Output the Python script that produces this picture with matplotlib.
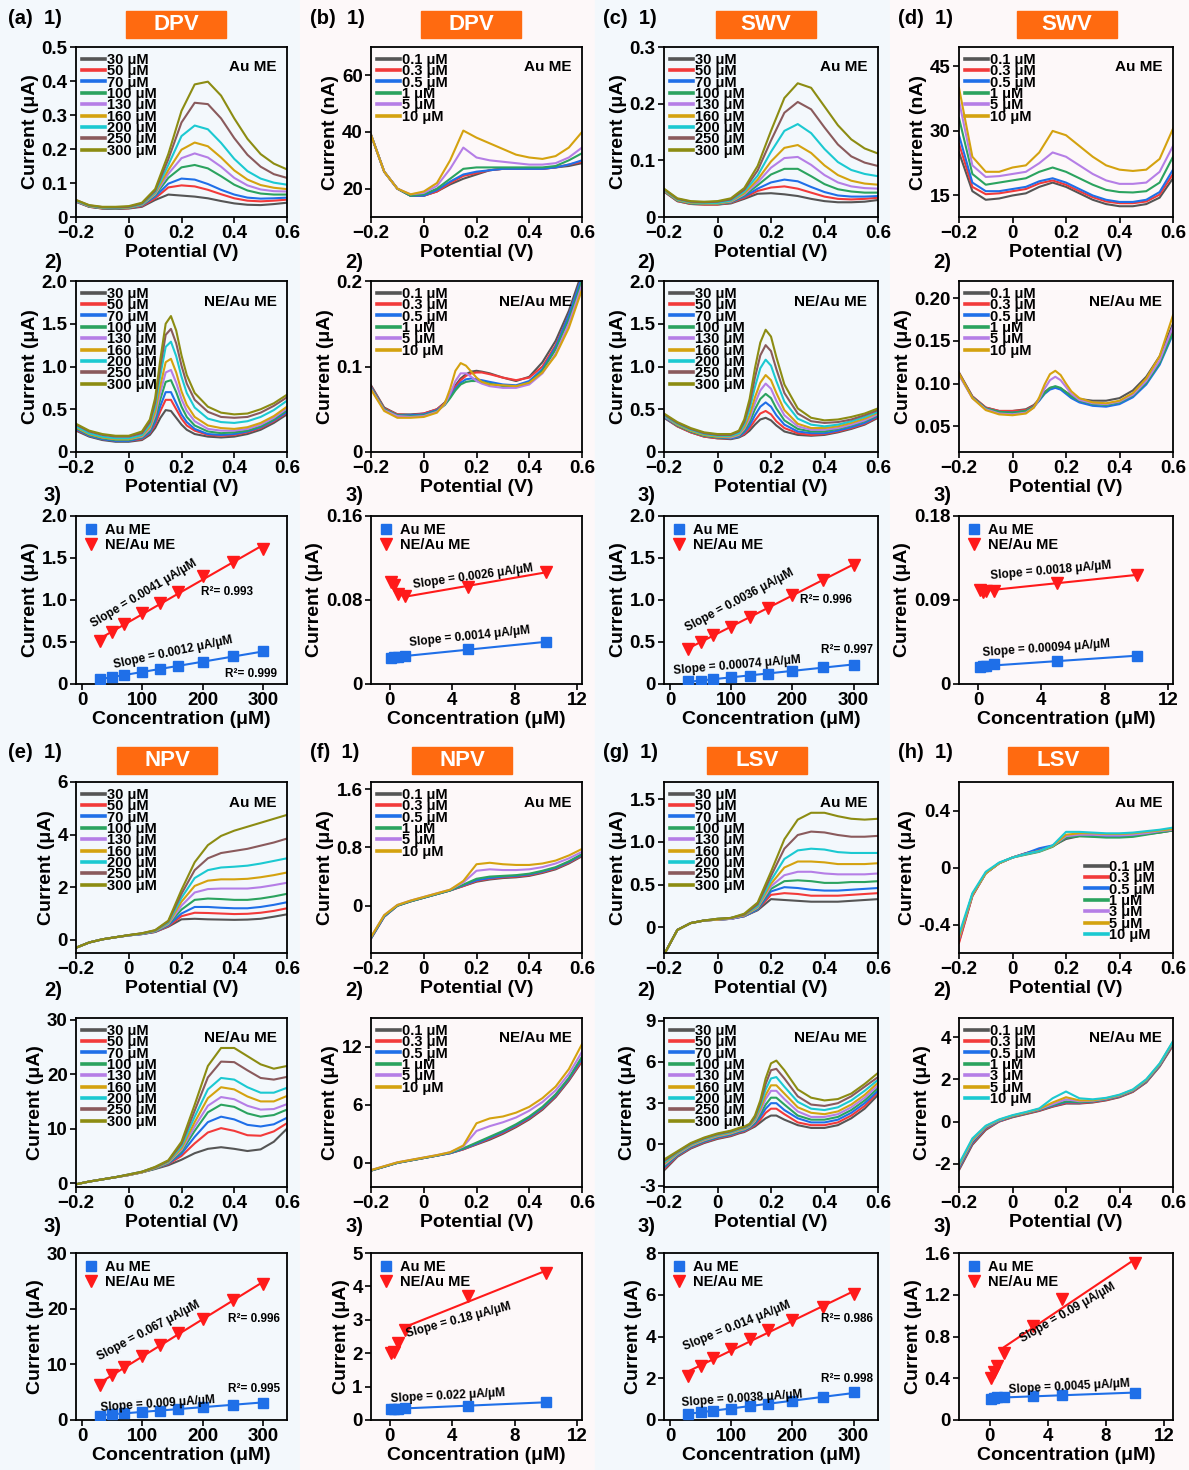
import numpy as np
import matplotlib
matplotlib.use("Agg")
import matplotlib.pyplot as plt
from matplotlib.patches import Rectangle

plt.rcParams["font.family"] = ["Liberation Sans", "DejaVu Sans"]
plt.rcParams["font.weight"] = "bold"
plt.rcParams["axes.labelweight"] = "bold"

# ---------------------------------------------------------------------------
# data
XC = [-0.2, -0.15, -0.1, -0.05, 0.0, 0.05, 0.1, 0.15, 0.2, 0.25, 0.3, 0.35, 0.4, 0.45, 0.5, 0.55, 0.6]
XF = [-0.2, -0.15, -0.1, -0.05, 0.0, 0.05, 0.08, 0.1, 0.12, 0.14, 0.16, 0.18, 0.2, 0.22, 0.25,
      0.3, 0.35, 0.4, 0.45, 0.5, 0.55, 0.6]

L9 = ["30 μM", "50 μM", "70 μM", "100 μM", "130 μM", "160 μM", "200 μM", "250 μM", "300 μM"]
L6 = ["0.1 μM", "0.3 μM", "0.5 μM", "1 μM", "5 μM", "10 μM"]
L7 = ["0.1 μM", "0.3 μM", "0.5 μM", "1 μM", "3 μM", "5 μM", "10 μM"]

CONC_HI = [30, 50, 70, 100, 130, 160, 200, 250, 300]
CONC_LO = [0.1, 0.3, 0.5, 1, 5, 10]
CONC_LO7 = [0.1, 0.3, 0.5, 1, 3, 5, 10]

# (a) DPV, uA
A1 = [
    [.045, .03, .025, .024, .025, .03, .05, .066, .063, .06, .055, .047, .04, .036, .035, .038, .042],
    [.045, .03, .025, .024, .026, .032, .055, .087, .093, .09, .08, .067, .055, .048, .046, .048, .051],
    [.046, .031, .026, .025, .027, .034, .06, .098, .113, .11, .097, .08, .066, .057, .054, .055, .057],
    [.047, .031, .026, .025, .027, .035, .064, .115, .146, .153, .143, .12, .095, .078, .069, .066, .066],
    [.047, .032, .027, .026, .028, .036, .067, .127, .173, .187, .175, .148, .115, .093, .081, .076, .075],
    [.048, .032, .027, .026, .028, .037, .07, .138, .198, .219, .208, .175, .137, .11, .094, .086, .082],
    [.048, .033, .028, .027, .029, .038, .073, .153, .238, .269, .258, .218, .171, .135, .113, .101, .095],
    [.05, .034, .029, .028, .03, .04, .077, .17, .278, .336, .332, .29, .232, .183, .148, .126, .115],
    [.05, .035, .03, .03, .032, .042, .082, .185, .312, .39, .398, .357, .29, .23, .185, .157, .14],
]
A2 = [
    [.25, .18, .14, .12, .12, .14, .2, .28, .4, .49, .48, .4, .32, .26, .21, .18, .17, .18, .21, .26, .34, .44],
    [.26, .19, .15, .13, .13, .15, .22, .32, .48, .61, .61, .5, .39, .31, .25, .2, .19, .2, .23, .28, .36, .46],
    [.27, .19, .15, .13, .13, .16, .23, .35, .54, .7, .7, .57, .44, .35, .27, .21, .2, .21, .24, .29, .37, .47],
    [.28, .2, .16, .14, .14, .17, .25, .39, .62, .82, .84, .7, .53, .41, .31, .24, .22, .23, .25, .3, .38, .49],
    [.29, .21, .17, .15, .15, .18, .27, .43, .7, .93, .96, .81, .62, .48, .36, .27, .25, .25, .27, .32, .4, .51],
    [.29, .21, .17, .15, .15, .19, .29, .47, .78, 1.05, 1.09, .93, .71, .55, .41, .31, .28, .27, .29, .34, .42, .53],
    [.3, .22, .18, .16, .16, .2, .32, .53, .9, 1.23, 1.29, 1.12, .88, .69, .52, .39, .35, .34, .36, .41, .49, .6],
    [.32, .24, .2, .18, .18, .22, .35, .58, 1.0, 1.37, 1.44, 1.27, 1.01, .8, .61, .47, .41, .4, .41, .46, .54, .64],
    [.33, .25, .21, .19, .19, .24, .38, .63, 1.09, 1.5, 1.59, 1.42, 1.13, .9, .69, .53, .46, .44, .45, .5, .57, .67],
]
A3_AU = [0.06, 0.085, 0.105, 0.145, 0.18, 0.21, 0.26, 0.33, 0.39]
A3_NE = [0.51, 0.62, 0.71, 0.84, 0.96, 1.09, 1.29, 1.45, 1.61]

# (b) DPV, low concentration
B1 = [
    [39, 26, 20, 17.5, 17.5, 19, 21.5, 23.5, 25, 26.5, 27, 27, 27, 27, 27.5, 28, 29],
    [39, 26, 20, 17.5, 17.5, 19, 22, 24.5, 25.5, 26.5, 27, 27, 27, 27, 27.5, 28.5, 29.5],
    [39, 26, 20, 17.5, 17.5, 19.5, 22.5, 25, 26, 26.5, 27, 27, 27, 27, 27.5, 28.5, 30],
    [39, 26, 20, 17.5, 18, 20, 23.5, 27, 27.5, 27.5, 27.5, 27.5, 27.5, 27.5, 28, 30, 32.5],
    [39, 26, 20, 18, 18.5, 21, 27, 34.5, 31, 30, 29.5, 29, 28.5, 28.5, 29, 31, 34.5],
    [39, 26, 20, 18, 19, 22, 30, 40.5, 38, 36, 34, 32, 31, 30.5, 31.5, 34.5, 40],
]
B2 = [
    [.078, .052, .044, .044, .045, .05, .058, .068, .078, .086, .091, .094, .095, .094, .092, .087, .083, .088, .105, .13, .165, .21],
    [.077, .051, .044, .043, .045, .05, .057, .066, .076, .084, .089, .092, .093, .093, .091, .087, .084, .087, .1, .125, .16, .205],
    [.076, .05, .043, .043, .044, .049, .056, .064, .074, .081, .085, .086, .085, .084, .082, .079, .078, .083, .097, .123, .16, .205],
    [.075, .05, .043, .042, .043, .048, .055, .063, .072, .079, .082, .083, .083, .082, .08, .077, .076, .081, .095, .12, .155, .2],
    [.074, .049, .042, .041, .042, .047, .056, .068, .083, .092, .092, .088, .083, .08, .077, .075, .075, .079, .092, .115, .15, .195],
    [.073, .048, .04, .04, .041, .046, .057, .074, .095, .104, .101, .094, .087, .082, .079, .078, .077, .081, .093, .113, .145, .19],
]
B3_AU = [0.025, 0.0255, 0.026, 0.027, 0.033, 0.040]
B3_NE = [0.097, 0.094, 0.086, 0.084, 0.092, 0.107]

# (c) SWV
C1 = [
    [.045, .028, .023, .022, .022, .024, .032, .041, .042, .04, .037, .032, .028, .026, .026, .027, .03],
    [.045, .028, .023, .022, .022, .025, .034, .046, .052, .054, .05, .043, .036, .032, .031, .032, .034],
    [.046, .029, .024, .023, .023, .026, .036, .05, .061, .066, .063, .053, .044, .038, .036, .036, .037],
    [.046, .029, .024, .023, .023, .026, .038, .056, .075, .085, .085, .072, .058, .049, .045, .043, .043],
    [.047, .03, .025, .024, .024, .027, .04, .061, .087, .104, .106, .092, .074, .061, .054, .051, .05],
    [.047, .03, .025, .024, .024, .028, .042, .066, .098, .122, .127, .113, .091, .074, .064, .059, .057],
    [.048, .031, .026, .025, .025, .029, .045, .073, .115, .152, .164, .148, .12, .097, .083, .076, .072],
    [.049, .032, .027, .026, .027, .031, .048, .082, .135, .184, .203, .19, .158, .128, .107, .096, .09],
    [.05, .033, .028, .027, .028, .033, .051, .09, .152, .21, .236, .228, .195, .162, .137, .121, .112],
]
C2 = [
    [.4, .3, .23, .18, .16, .15, .17, .2, .25, .32, .38, .4, .37, .31, .24, .2, .19, .2, .23, .27, .32, .4],
    [.41, .3, .23, .18, .16, .16, .18, .21, .28, .37, .45, .48, .44, .36, .28, .22, .2, .21, .24, .28, .33, .41],
    [.41, .31, .24, .19, .17, .16, .18, .23, .31, .43, .53, .58, .53, .43, .32, .24, .22, .22, .25, .29, .34, .42],
    [.42, .31, .24, .19, .17, .17, .19, .25, .35, .5, .62, .68, .63, .51, .37, .27, .24, .24, .27, .31, .36, .43],
    [.42, .32, .25, .2, .18, .17, .2, .27, .39, .57, .72, .8, .74, .6, .43, .3, .26, .26, .28, .32, .37, .44],
    [.43, .32, .25, .2, .18, .18, .21, .29, .43, .64, .81, .9, .84, .69, .49, .33, .28, .28, .3, .34, .39, .46],
    [.43, .33, .26, .21, .19, .19, .22, .32, .5, .76, .98, 1.08, 1.01, .83, .59, .39, .32, .3, .32, .36, .41, .47],
    [.44, .34, .27, .22, .2, .2, .24, .35, .56, .87, 1.13, 1.25, 1.18, .97, .69, .45, .36, .34, .35, .38, .43, .49],
    [.45, .35, .28, .23, .21, .21, .25, .38, .62, .98, 1.28, 1.43, 1.35, 1.11, .79, .51, .4, .37, .38, .41, .45, .51],
]
C3_AU = [0.03, 0.04, 0.055, 0.08, 0.10, 0.12, 0.16, 0.20, 0.23]
C3_NE = [0.42, 0.50, 0.58, 0.68, 0.80, 0.90, 1.06, 1.24, 1.42]

# (d) SWV, low concentration
D1 = [
    [25, 16, 14, 14.3, 15, 15.5, 17, 18, 17, 15.5, 14, 13, 12.5, 12.5, 13, 14.5, 19],
    [27, 17, 15.3, 15.5, 16, 16.5, 17.8, 18.5, 17.5, 16, 14.6, 13.6, 13.2, 13.2, 13.6, 15.2, 20],
    [29, 18, 16, 16, 16.5, 17, 18.3, 19, 18, 16.5, 15, 14, 13.5, 13.5, 14, 15.8, 21],
    [33, 20, 17.5, 18, 18.5, 19, 20.5, 21.5, 20.5, 19, 17.5, 16.3, 15.8, 15.7, 16, 18, 24],
    [37, 22, 19.3, 19.5, 20, 20.5, 22.5, 25, 24, 22, 20, 18.5, 17.7, 17.7, 18, 20.5, 26.5],
    [40, 24, 20.5, 20.5, 21.5, 22, 25, 30, 29, 26.5, 24, 22, 21, 20.7, 21, 23.5, 30.5],
]
D2 = [
    [.113, .085, .072, .068, .068, .07, .075, .082, .09, .095, .096, .094, .09, .086, .082, .08, .08, .083, .092, .108, .132, .17],
    [.112, .085, .072, .068, .068, .069, .074, .081, .089, .094, .096, .094, .09, .085, .08, .077, .076, .079, .087, .102, .125, .162],
    [.111, .084, .071, .067, .066, .068, .073, .08, .088, .093, .095, .093, .088, .083, .078, .074, .073, .076, .084, .099, .122, .158],
    [.111, .084, .071, .067, .066, .068, .073, .081, .089, .095, .097, .095, .09, .085, .08, .076, .075, .078, .086, .101, .124, .16],
    [.11, .083, .07, .065, .064, .066, .072, .082, .094, .104, .108, .104, .096, .088, .081, .077, .076, .079, .087, .103, .127, .167],
    [.112, .083, .069, .064, .063, .065, .072, .084, .099, .111, .115, .11, .1, .091, .083, .078, .077, .08, .089, .106, .132, .18],
]
D3_AU = [0.018, 0.019, 0.019, 0.021, 0.025, 0.030]
D3_NE = [0.101, 0.099, 0.100, 0.100, 0.108, 0.117]

# (e) NPV
E1 = [
    [-.3, -.1, .02, .1, .17, .22, .3, .5, .78, .8, .78, .77, .76, .77, .8, .88, .97],
    [-.3, -.1, .02, .1, .17, .22, .3, .52, .9, 1.03, 1.02, 1.0, .98, .99, 1.03, 1.1, 1.2],
    [-.3, -.1, .02, .1, .17, .22, .31, .55, 1.0, 1.25, 1.25, 1.22, 1.2, 1.2, 1.25, 1.33, 1.43],
    [-.3, -.1, .02, .1, .17, .23, .32, .58, 1.15, 1.52, 1.57, 1.55, 1.52, 1.52, 1.57, 1.65, 1.75],
    [-.3, -.1, .02, .1, .17, .23, .33, .6, 1.3, 1.8, 1.93, 1.95, 1.95, 1.95, 2.0, 2.08, 2.17],
    [-.3, -.1, .02, .1, .18, .24, .34, .63, 1.45, 2.05, 2.25, 2.3, 2.3, 2.32, 2.38, 2.46, 2.56],
    [-.3, -.1, .02, .1, .18, .24, .35, .66, 1.6, 2.35, 2.65, 2.75, 2.78, 2.82, 2.9, 3.0, 3.1],
    [-.3, -.1, .02, .1, .18, .25, .36, .7, 1.75, 2.65, 3.1, 3.3, 3.38, 3.46, 3.58, 3.7, 3.85],
    [-.3, -.1, .02, .1, .18, .25, .37, .73, 1.9, 2.95, 3.6, 3.95, 4.15, 4.3, 4.45, 4.6, 4.75],
]
E2 = [
    [-.2, .3, .7, 1.1, 1.5, 2.0, 2.6, 3.3, 4.3, 5.5, 6.3, 6.6, 6.3, 5.9, 6.2, 7.6, 10],
    [-.2, .3, .7, 1.1, 1.5, 2.0, 2.7, 3.5, 5.0, 7.3, 9.3, 10.1, 9.6, 8.8, 8.7, 9.5, 11],
    [-.2, .3, .7, 1.1, 1.5, 2.0, 2.7, 3.6, 5.4, 8.5, 11.2, 12.2, 11.7, 10.7, 10.4, 10.8, 12],
    [-.2, .3, .7, 1.1, 1.5, 2.0, 2.7, 3.7, 5.8, 9.6, 13.0, 14.4, 14.0, 12.8, 12.2, 12.5, 13.5],
    [-.2, .3, .7, 1.1, 1.5, 2.0, 2.8, 3.8, 6.1, 10.4, 14.2, 15.8, 15.4, 14.2, 13.5, 13.6, 14.5],
    [-.2, .3, .7, 1.1, 1.5, 2.0, 2.8, 3.9, 6.4, 11.2, 15.6, 17.6, 17.2, 15.9, 15.0, 15.0, 16],
    [-.2, .3, .7, 1.1, 1.6, 2.1, 2.9, 4.0, 6.8, 12.2, 17.2, 19.3, 19.0, 17.6, 16.6, 16.6, 17.5],
    [-.2, .3, .7, 1.1, 1.6, 2.1, 2.9, 4.1, 7.2, 13.3, 19.4, 22.3, 22.2, 20.7, 19.3, 19.0, 19.5],
    [-.2, .3, .7, 1.1, 1.6, 2.1, 3.0, 4.2, 7.6, 14.4, 21.5, 24.8, 24.8, 23.3, 21.8, 21.0, 21.5],
]
E3_AU = [0.8, 1.0, 1.2, 1.5, 1.7, 2.0, 2.4, 2.7, 3.1]
E3_NE = [6.3, 8.0, 9.6, 11.5, 13.5, 15.6, 18.2, 21.5, 24.5]

# (f) NPV, low concentration
F1 = [
    [-.45, -.15, 0, .06, .11, .16, .21, .27, .33, .36, .38, .39, .41, .45, .5, .58, .68],
    [-.45, -.15, 0, .06, .11, .16, .21, .27, .34, .37, .39, .4, .42, .46, .51, .59, .69],
    [-.45, -.15, 0, .06, .11, .16, .21, .28, .35, .38, .4, .41, .43, .47, .52, .6, .7],
    [-.44, -.14, 0, .06, .11, .16, .21, .29, .37, .4, .41, .42, .44, .48, .53, .61, .71],
    [-.43, -.13, .01, .07, .12, .17, .22, .32, .48, .5, .49, .49, .5, .53, .58, .65, .74],
    [-.43, -.13, .01, .07, .12, .17, .22, .34, .57, .59, .57, .56, .56, .58, .62, .69, .78],
]
F2 = [
    [-.8, -.4, 0, .25, .5, .75, 1.0, 1.4, 1.9, 2.4, 3.0, 3.7, 4.5, 5.5, 6.8, 8.5, 10.5],
    [-.8, -.4, 0, .25, .5, .75, 1.0, 1.4, 1.95, 2.5, 3.1, 3.8, 4.6, 5.6, 6.9, 8.6, 10.6],
    [-.8, -.4, 0, .25, .5, .75, 1.0, 1.45, 2.0, 2.6, 3.2, 3.9, 4.7, 5.7, 7.0, 8.7, 10.8],
    [-.8, -.4, 0, .25, .5, .75, 1.05, 1.5, 2.1, 2.7, 3.3, 4.0, 4.8, 5.8, 7.1, 8.8, 11],
    [-.75, -.35, .05, .3, .55, .8, 1.1, 1.7, 3.3, 3.8, 4.2, 4.7, 5.4, 6.3, 7.5, 9.2, 11.5],
    [-.75, -.35, .05, .3, .55, .8, 1.1, 1.8, 4.1, 4.6, 4.8, 5.2, 5.8, 6.7, 7.9, 9.7, 12.3],
]
F3_AU = [0.33, 0.33, 0.34, 0.35, 0.43, 0.53]
F3_NE = [2.0, 2.05, 2.3, 2.7, 3.7, 4.4]

# (g) LSV
G1 = [
    [-.32, -.03, .05, .08, .09, .1, .13, .2, .33, .32, .31, .3, .3, .3, .31, .32, .33],
    [-.32, -.03, .05, .08, .09, .1, .13, .21, .38, .4, .39, .37, .37, .37, .38, .39, .4],
    [-.32, -.03, .05, .08, .09, .1, .13, .21, .42, .47, .46, .44, .43, .43, .44, .45, .46],
    [-.32, -.03, .05, .08, .09, .1, .14, .22, .45, .54, .55, .54, .52, .52, .53, .53, .54],
    [-.32, -.03, .05, .08, .09, .1, .14, .23, .48, .61, .65, .65, .63, .62, .62, .62, .63],
    [-.32, -.03, .05, .08, .09, .11, .14, .24, .51, .7, .77, .77, .76, .74, .74, .74, .75],
    [-.32, -.03, .05, .08, .1, .11, .15, .25, .55, .8, .9, .92, .91, .88, .87, .87, .87],
    [-.32, -.03, .05, .08, .1, .11, .15, .27, .6, .92, 1.08, 1.12, 1.11, 1.08, 1.06, 1.06, 1.07],
    [-.32, -.03, .05, .08, .1, .11, .16, .29, .65, 1.03, 1.26, 1.34, 1.34, 1.3, 1.27, 1.26, 1.27],
]
G2 = [
    [-1.9, -.9, -.3, .1, .4, .6, .8, .9, 1.1, 1.3, 1.6, 1.9, 2.1, 2.1, 1.8, 1.4, 1.2, 1.2, 1.4, 1.9, 2.6, 3.6],
    [-1.8, -.85, -.25, .15, .45, .65, .85, .95, 1.15, 1.4, 1.8, 2.3, 2.6, 2.6, 2.2, 1.6, 1.4, 1.4, 1.6, 2.1, 2.8, 3.8],
    [-1.7, -.8, -.2, .2, .5, .7, .9, 1.0, 1.2, 1.5, 2.0, 2.6, 3.0, 3.0, 2.5, 1.9, 1.6, 1.6, 1.8, 2.3, 3.0, 3.9],
    [-1.6, -.75, -.15, .25, .55, .75, .95, 1.05, 1.25, 1.6, 2.2, 2.9, 3.4, 3.4, 2.9, 2.1, 1.8, 1.8, 2.0, 2.5, 3.2, 4.1],
    [-1.5, -.7, -.1, .3, .6, .8, 1.0, 1.1, 1.3, 1.7, 2.4, 3.3, 3.9, 3.9, 3.3, 2.4, 2.0, 2.0, 2.2, 2.7, 3.4, 4.3],
    [-1.4, -.65, -.05, .35, .65, .85, 1.05, 1.15, 1.35, 1.8, 2.6, 3.6, 4.3, 4.3, 3.7, 2.7, 2.3, 2.2, 2.4, 2.9, 3.6, 4.5],
    [-1.3, -.6, 0, .4, .7, .9, 1.1, 1.2, 1.4, 1.9, 2.8, 4.0, 4.8, 4.9, 4.2, 3.1, 2.6, 2.5, 2.7, 3.2, 3.9, 4.7],
    [-1.2, -.55, .05, .45, .75, .95, 1.15, 1.25, 1.45, 2.0, 3.0, 4.4, 5.4, 5.5, 4.8, 3.5, 2.9, 2.8, 3.0, 3.5, 4.2, 4.9],
    [-1.1, -.5, .1, .5, .8, 1.0, 1.2, 1.3, 1.5, 2.1, 3.2, 4.8, 5.9, 6.1, 5.4, 4.0, 3.4, 3.2, 3.3, 3.7, 4.4, 5.2],
]
G3_AU = [0.30, 0.40, 0.45, 0.55, 0.65, 0.75, 0.90, 1.10, 1.33]
G3_NE = [2.1, 2.6, 2.95, 3.4, 3.9, 4.3, 4.8, 5.4, 6.05]

# (h) LSV, low concentration
H1 = [
    [-.52, -.2, -.04, .03, .07, .1, .12, .15, .2, .22, .22, .22, .22, .225, .235, .245, .26],
    [-.53, -.2, -.04, .03, .07, .1, .125, .15, .21, .225, .22, .22, .22, .225, .235, .25, .26],
    [-.5, -.19, -.04, .03, .07, .1, .135, .155, .21, .225, .22, .22, .22, .225, .235, .25, .265],
    [-.5, -.19, -.04, .03, .07, .09, .11, .145, .21, .22, .215, .21, .21, .215, .23, .245, .26],
    [-.5, -.19, -.04, .03, .07, .095, .115, .15, .22, .23, .23, .225, .225, .23, .24, .255, .265],
    [-.49, -.19, -.04, .03, .07, .095, .115, .15, .23, .24, .24, .235, .235, .24, .25, .26, .27],
    [-.47, -.18, -.03, .035, .07, .095, .115, .155, .25, .25, .245, .24, .24, .245, .255, .265, .28],
]
H2 = [
    [-2.3, -1.1, -.4, 0, .2, .35, .5, .7, .85, .85, .9, 1.0, 1.15, 1.4, 1.85, 2.6, 3.6],
    [-2.25, -1.05, -.35, 0, .22, .37, .52, .72, .88, .87, .92, 1.02, 1.17, 1.42, 1.87, 2.62, 3.65],
    [-2.2, -1.0, -.3, .02, .24, .4, .55, .75, .92, .9, .95, 1.05, 1.2, 1.45, 1.9, 2.65, 3.7],
    [-2.15, -.95, -.28, .04, .25, .4, .56, .78, .95, .92, .96, 1.06, 1.21, 1.46, 1.92, 2.67, 3.72],
    [-2.1, -.9, -.25, .06, .27, .42, .58, .82, 1.05, .96, .98, 1.08, 1.23, 1.48, 1.95, 2.7, 3.75],
    [-2.05, -.85, -.22, .08, .28, .43, .6, .9, 1.15, 1.0, 1.0, 1.1, 1.25, 1.5, 1.97, 2.72, 3.78],
    [-2.0, -.8, -.2, .1, .3, .45, .62, 1.1, 1.42, 1.1, 1.05, 1.12, 1.27, 1.52, 2.0, 2.75, 3.8],
]
H3_AU = [0.20, 0.21, 0.22, 0.22, 0.23, 0.24, 0.26]
H3_NE = [0.40, 0.46, 0.52, 0.64, 0.90, 1.16, 1.50]

COLORS = ["#555555", "#F23A3A", "#1F6FE8", "#2BA35F", "#B57EE6",
          "#D4A20F", "#1BC9D1", "#8A5A5C", "#8C8C12"]
C6 = COLORS[:6]
C7 = COLORS[:7]
BLUE = "#1F6FE8"
RED = "#FF1A1A"
ORANGE = "#FF6A10"

W, H = 1189, 1470
fig = plt.figure(figsize=(W / 100, H / 100), dpi=100)

# faint background tints of the source figure
for x0, x1, col in [(0, 300, "#F3F8FC"), (300, 595, "#FDF8F9"),
                    (595, 890, "#F3F8FC"), (890, W, "#FDF8F9")]:
    fig.patches.append(Rectangle((x0 / W, 0), (x1 - x0) / W, 1, transform=fig.transFigure,
                                 color=col, zorder=-10))

COLS = {"a": (76, 287), "b": (371, 582), "c": (664, 878), "d": (959, 1173)}
ROWS = [(47, 217), (281, 452), (516, 684), (782, 953), (1018, 1187), (1253, 1420)]


def add_ax(col, row):
    l, r = COLS[col]
    t, b = ROWS[row]
    ax = fig.add_axes([l / W, 1 - b / H, (r - l) / W, (b - t) / H])
    ax.patch.set_alpha(0)
    for s in ax.spines.values():
        s.set_linewidth(1.3)
    ax.tick_params(direction="out", length=4, width=1.2, labelsize=13.5, pad=2)
    return ax


def fmt(vals, nd):
    out = []
    for v in vals:
        out.append("0" if v == 0 else f"{v:.{nd}f}")
    return out


def volt(col, row, x, curves, labels, colors, ylim, yticks, nd, unit, tag,
         leg_loc="upper left", leg_anchor=None):
    ax = add_ax(col, row)
    for y, lab, c in zip(curves, labels, colors):
        ax.plot(x, y, color=c, lw=1.5, label=lab)
    ax.set_xlim(-0.2, 0.6)
    ax.set_xticks([-0.2, 0, 0.2, 0.4, 0.6])
    ax.set_xticklabels(["\u22120.2", "0", "0.2", "0.4", "0.6"])
    ax.set_ylim(*ylim)
    ax.set_yticks(yticks)
    ax.set_yticklabels(fmt(yticks, nd))
    ax.set_xlabel("Potential (V)", fontsize=14, labelpad=1)
    ax.set_ylabel(f"Current ({unit})", fontsize=14, labelpad=2)
    kw = dict(loc=leg_loc, frameon=False, fontsize=10.5, labelspacing=-0.18,
              handlelength=1.6, handletextpad=0.1, borderaxespad=0.2, borderpad=0.2)
    if leg_anchor is not None:
        kw["bbox_to_anchor"] = leg_anchor
    leg = ax.legend(**kw)
    for ln in leg.get_lines():
        ln.set_linewidth(2.6)
    ax.text(0.95, 0.88, tag, transform=ax.transAxes, ha="right", va="center",
            fontsize=11, fontweight="bold")
    return ax


def calib(col, row, conc, au, ne, xlim, xticks, ylim, yticks, nd, notes,
          ne_fit_from=None, ne_join=False):
    ax = add_ax(col, row)
    conc = np.array(conc, dtype=float)
    au = np.array(au)
    ne = np.array(ne)
    k, b0 = np.polyfit(conc, au, 1)
    xs = np.array([conc[0], conc[-1]])
    ax.plot(xs, k * xs + b0, color=BLUE, lw=1.5, zorder=2)
    m = conc >= (ne_fit_from if ne_fit_from is not None else conc[0])
    k2, b2 = np.polyfit(conc[m], ne[m], 1)
    xs2 = np.array([conc[m][0], conc[-1]])
    ax.plot(xs2, k2 * xs2 + b2, color=RED, lw=1.5, zorder=2)
    if ne_join:
        ax.plot(conc[~m].tolist() + [conc[m][0]], ne[~m].tolist() + [k2 * conc[m][0] + b2],
                color=RED, lw=1.5, zorder=2)
    ax.plot(conc, au, "s", color=BLUE, ms=6.5, label="Au ME", zorder=3)
    ax.plot(conc, ne, "v", color=RED, ms=8, label="NE/Au ME", zorder=3)
    ax.set_xlim(*xlim)
    ax.set_xticks(xticks)
    ax.set_ylim(*ylim)
    ax.set_yticks(yticks)
    ax.set_yticklabels(fmt(yticks, nd))
    ax.set_xlabel("Concentration (μM)", fontsize=14, labelpad=1)
    ax.set_ylabel("Current (μA)", fontsize=14, labelpad=2)
    ax.legend(loc="upper left", frameon=False, fontsize=10.5, labelspacing=0.05,
              handlelength=1.0, handletextpad=0.5, borderaxespad=0.3, borderpad=0.2)
    for x, y, s, rot in notes:
        ax.text(x, y, s, rotation=rot, ha="center", va="center", fontsize=8.5,
                fontweight="bold", rotation_mode="anchor")
    return ax


# ---- rows 1-2 --------------------------------------------------------------
volt("a", 0, XC, A1, L9, COLORS, (0, 0.5), [0, .1, .2, .3, .4, .5], 1, "μA", "Au ME")
volt("a", 1, XF, A2, L9, COLORS, (0, 2.0), [0, .5, 1, 1.5, 2], 1, "μA", "NE/Au ME")
volt("b", 0, XC, B1, L6, C6, (10, 70), [20, 40, 60], 0, "nA", "Au ME")
volt("b", 1, XF, B2, L6, C6, (0, 0.2), [0, 0.1, 0.2], 1, "μA", "NE/Au ME")
volt("c", 0, XC, C1, L9, COLORS, (0, 0.3), [0, .1, .2, .3], 1, "μA", "Au ME")
volt("c", 1, XF, C2, L9, COLORS, (0, 2.0), [0, .5, 1, 1.5, 2], 1, "μA", "NE/Au ME")
volt("d", 0, XC, D1, L6, C6, (10, 49.5), [15, 30, 45], 0, "nA", "Au ME")
volt("d", 1, XF, D2, L6, C6, (0.02, 0.22), [.05, .1, .15, .2], 2, "μA", "NE/Au ME")

volt("a", 3, XC, E1, L9, COLORS, (-0.5, 6.0), [0, 2, 4, 6], 0, "μA", "Au ME")
volt("a", 4, XC, E2, L9, COLORS, (-0.7, 30.3), [0, 10, 20, 30], 0, "μA", "NE/Au ME")
volt("b", 3, XC, F1, L6, C6, (-0.65, 1.7), [0, 0.8, 1.6], 1, "μA", "Au ME")
volt("b", 4, XC, F2, L6, C6, (-2.5, 15), [0, 6, 12], 0, "μA", "NE/Au ME")
volt("c", 3, XC, G1, L9, COLORS, (-0.3, 1.7), [0, .5, 1, 1.5], 1, "μA", "Au ME")
volt("c", 4, XF, G2, L9, COLORS, (-3.1, 9.2), [-3, 0, 3, 6, 9], 0, "μA", "NE/Au ME")
volt("d", 3, XC, H1, L7, C7, (-0.6, 0.6), [-0.4, 0, 0.4], 1, "μA", "Au ME",
     leg_loc="lower left", leg_anchor=(0.56, 0.03))
volt("d", 4, XC, H2, L7, C7, (-3.1, 4.9), [-2, 0, 2, 4], 0, "μA", "NE/Au ME")

# ---- row 3: calibration ----------------------------------------------------
HI_X = (-10, 340)
LO_X = (-1.2, 12.3)
calib("a", 2, CONC_HI, A3_AU, A3_NE, HI_X, [0, 100, 200, 300], (0, 2.0), [0, .5, 1, 1.5, 2], 1,
      [(103, 1.08, "Slope = 0.0041 μA/μM", 31), (240, 1.09, "R²= 0.993", 0),
       (151, 0.38, "Slope = 0.0012 μA/μM", 12), (280, 0.12, "R²= 0.999", 0)])
calib("b", 2, CONC_LO, B3_AU, B3_NE, LO_X, [0, 4, 8, 12], (0, 0.16), [0, 0.08, 0.16], 2,
      [(5.3, 0.102, "Slope = 0.0026 μA/μM", 8), (5.1, 0.045, "Slope = 0.0014 μA/μM", 6)],
      ne_fit_from=1, ne_join=True)
calib("c", 2, CONC_HI, C3_AU, C3_NE, HI_X, [0, 100, 200, 300], (0, 2.0), [0, .5, 1, 1.5, 2], 1,
      [(113, 1.0, "Slope = 0.0036 μA/μM", 28), (255, 1.0, "R²= 0.996", 0),
       (110, 0.22, "Slope = 0.00074 μA/μM", 5), (290, 0.4, "R²= 0.997", 0)])
calib("d", 2, CONC_LO, D3_AU, D3_NE, LO_X, [0, 4, 8, 12], (0, 0.18), [0, 0.09, 0.18], 2,
      [(4.6, 0.121, "Slope = 0.0018 μA/μM", 5), (4.3, 0.038, "Slope = 0.00094 μA/μM", 4)])

calib("a", 5, CONC_HI, E3_AU, E3_NE, HI_X, [0, 100, 200, 300], (0, 30), [0, 10, 20, 30], 0,
      [(110, 16, "Slope = 0.067 μA/μM", 28), (285, 18.2, "R²= 0.996", 0),
       (125, 2.9, "Slope = 0.009 μA/μM", 4), (285, 5.5, "R²= 0.995", 0)])
calib("b", 5, CONC_LO, F3_AU, F3_NE, LO_X, [0, 4, 8, 12], (0, 5), [0, 1, 2, 3, 4, 5], 0,
      [(4.4, 3.0, "Slope = 0.18 μA/μM", 15), (3.7, 0.72, "Slope = 0.022 μA/μM", 3)],
      ne_fit_from=1)
calib("c", 5, CONC_HI, G3_AU, G3_NE, HI_X, [0, 100, 200, 300], (0, 8), [0, 2, 4, 6, 8], 0,
      [(110, 4.5, "Slope = 0.014 μA/μM", 22), (290, 4.85, "R²= 0.986", 0),
       (117, 1.0, "Slope = 0.0038 μA/μM", 4), (290, 1.95, "R²= 0.998", 0)])
calib("d", 5, CONC_LO7, H3_AU, H3_NE, (-2.1, 12.6), [0, 4, 8, 12], (0, 1.6),
      [0, .4, .8, 1.2, 1.6], 1,
      [(5.4, 1.03, "Slope = 0.09 μA/μM", 30), (5.5, 0.32, "Slope = 0.0045 μA/μM", 3)],
      ne_fit_from=1)

# ---- panel labels & method boxes -----------------------------------------
def ftext(x, y, s, **kw):
    fig.text(x / W, 1 - y / H, s, **kw)


PANEL_X = {"a": 8, "b": 310, "c": 603, "d": 898}
SUB_X = {"a": 44, "b": 345, "c": 637, "d": 933}
for half, (y1, y2, y3), letters in [(0, (19, 262, 495), "abcd"), (1, (753, 991, 1227), "efgh")]:
    for key, letter in zip("abcd", letters):
        ftext(PANEL_X[key], y1, f"({letter})  1)", fontsize=14.5, fontweight="bold", va="center")
        ftext(SUB_X[key], y2, "2)", fontsize=14.5, fontweight="bold", va="center")
        ftext(SUB_X[key], y3, "3)", fontsize=14.5, fontweight="bold", va="center")

BOXES = [("DPV", 126, 11), ("DPV", 421, 11), ("SWV", 716, 11), ("SWV", 1017, 11),
         ("NPV", 117, 747), ("NPV", 412, 747), ("LSV", 707, 747), ("LSV", 1008, 747)]
for name, bx, by in BOXES:
    fig.patches.append(Rectangle((bx / W, 1 - (by + 27) / H), 100 / W, 27 / H,
                                 transform=fig.transFigure, color=ORANGE, zorder=5))
    ftext(bx + 50, by + 14, name, fontsize=16, fontweight="bold", color="white",
          ha="center", va="center", zorder=6)

fig.savefig("out.png", dpi=100)
